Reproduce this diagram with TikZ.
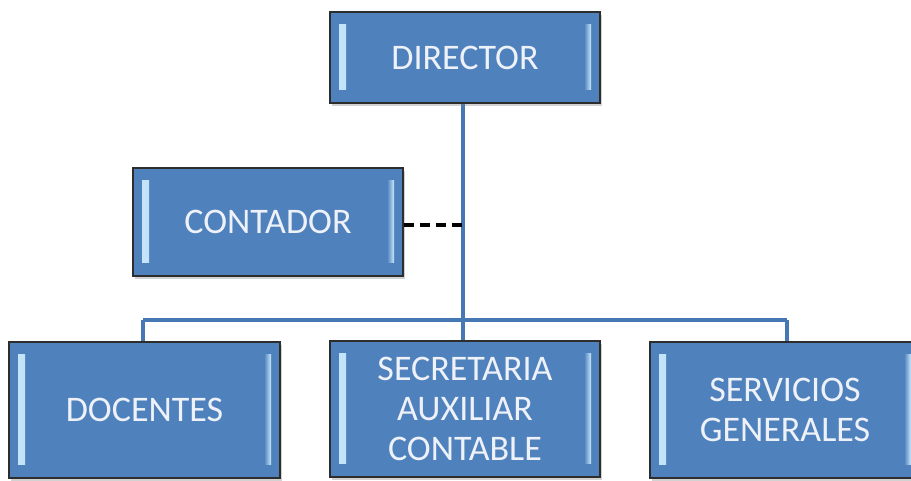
\documentclass[tikz,border=0pt]{standalone}
\usepackage{fontspec}
\setmainfont{Carlito}
\usetikzlibrary{shadows}
\definecolor{boxblue}{RGB}{79,129,189}
\definecolor{barlight}{RGB}{200,232,252}
\definecolor{linkblue}{RGB}{70,120,180}
\definecolor{textwhite}{RGB}{238,242,248}
\definecolor{edgegray}{RGB}{45,45,45}
\tikzset{
  orgbox/.style={draw=edgegray, line width=1.4pt, fill=boxblue, text=textwhite,
    minimum width=#1, inner sep=0pt, align=center,
    font=\fontsize{36}{40}\selectfont,
    drop shadow={opacity=0.35, shadow xshift=1.5pt, shadow yshift=-3pt},
    path picture={
      \shade[left color=barlight, right color=boxblue]
        ([xshift=9pt,yshift=-13pt]path picture bounding box.north west) rectangle
        ([xshift=16pt,yshift=13pt]path picture bounding box.south west);
      \shade[right color=barlight, left color=boxblue]
        ([xshift=-16pt,yshift=-13pt]path picture bounding box.north east) rectangle
        ([xshift=-9pt,yshift=13pt]path picture bounding box.south east);
    }},
  link/.style={draw=linkblue, line width=4.5pt},
  dashlink/.style={draw=black, line width=4pt, dash pattern=on 10pt off 6pt}
}
\begin{document}
\begin{tikzpicture}[x=1pt,y=1pt]
\useasboundingbox (0,0) rectangle (911,481);
\fill[white] (0,0) rectangle (911,481);
% connectors first
\coordinate (trunktop) at (463,378);
\coordinate (junction) at (463,161);
\coordinate (barleft) at (143,161);
\coordinate (barright) at (787,161);
\coordinate (dashend) at (463,256);
\draw[link] (trunktop) -- (junction);
\draw[link] (barleft) -- (barright);
\draw[link] (barleft) -- (143,139);
\draw[link] (barright) -- (787,139);
\draw[link] (junction) -- (463,139);
% boxes
\node[orgbox=270pt, minimum height=91pt] (director) at (465,423.5) {DIRECTOR};
\node[orgbox=270pt, minimum height=108pt] (contador) at (268,259) {CONTADOR};
\node[orgbox=271pt, minimum height=136pt] (docentes) at (144.5,71) {DOCENTES};
\node[orgbox=270pt, minimum height=136pt] (secretaria) at (465,72) {SECRETARIA\\AUXILIAR\\CONTABLE};
\node[orgbox=270pt, minimum height=136pt] (servicios) at (785,71) {SERVICIOS\\GENERALES};
\draw[dashlink] (contador.east |- dashend) -- (dashend);
\end{tikzpicture}
\end{document}
